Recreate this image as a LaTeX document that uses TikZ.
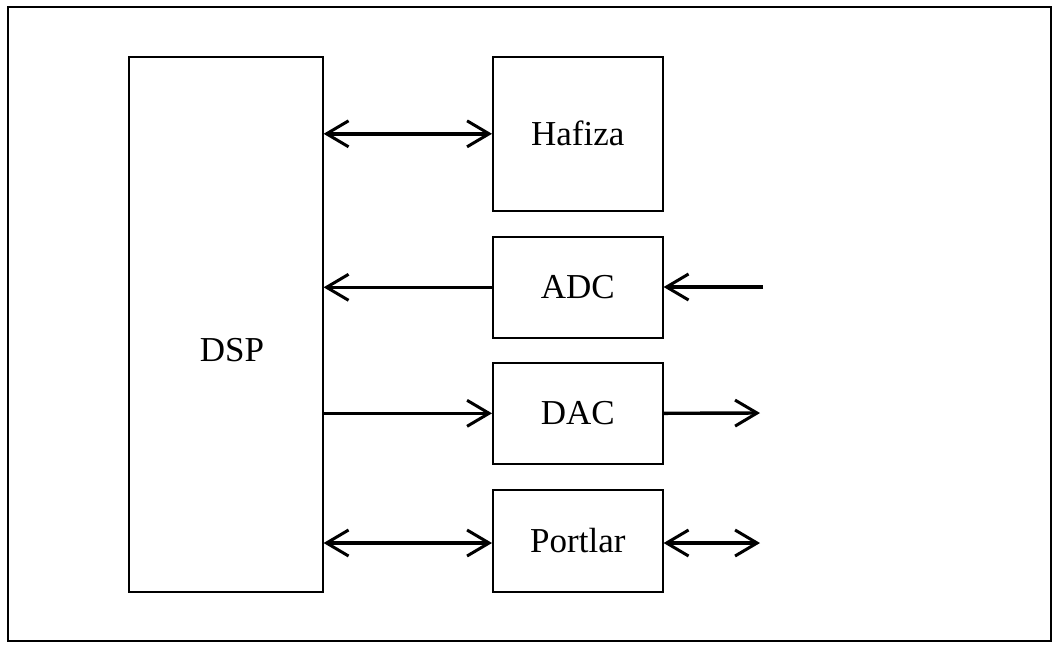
\documentclass[tikz,border=0pt]{standalone}
\usepackage{fontspec}
\setmainfont{Liberation Serif}
\usetikzlibrary{arrows.meta,positioning}
\tikzset{
  blok/.style={draw, line width=0.8pt, minimum width=85pt, inner sep=0pt, anchor=north west},
  ok/.style={line width=1.7pt, -{Straight Barb[length=11pt,width=13pt,line width=1.5pt]}},
  cift/.style={line width=1.7pt, {Straight Barb[length=11pt,width=13pt,line width=1.5pt]}-{Straight Barb[length=11pt,width=13pt,line width=1.5pt]}}
}
\begin{document}
\begin{tikzpicture}[x=0.5pt, y=-0.5pt, font=\fontsize{17.5}{20}\selectfont]
  \useasboundingbox (0,0) rectangle (1053,644);
  \draw[line width=1pt] (8,7) rectangle (1051,641);
  % bloklar
  \node[blok, minimum width=97pt, minimum height=267.5pt] (dsp) at (128,56) {};
  \node (dsptext) at (232,350) {DSP};
  \node[blok, minimum height=77pt] (hafiza) at (492,56) {Hafiza};
  \node[blok, minimum height=50.5pt] (adc) at (492,236) {ADC};
  \node[blok, minimum height=50.5pt] (dac) at (492,362) {DAC};
  \node[blok, minimum height=51pt] (port) at (492,489) {Portlar};
  % dis uclar
  \coordinate (adcin) at (763,287);
  \coordinate (dacout) at (760,413);
  \coordinate (portout) at (760,543);
  % baglantilar
  \draw[cift] (dsp.east |- hafiza.west) -- (hafiza.west);
  \draw[ok] (adc.west) -- (dsp.east |- adc.west);
  \draw[ok] (adcin) -- (adc.east |- adcin);
  \draw[ok] (dsp.east |- dac.west) -- (dac.west);
  \draw[ok] (dac.east) -- (dacout);
  \draw[cift] (dsp.east |- portout) -- (port.west |- portout);
  \draw[cift] (port.east |- portout) -- (portout);
\end{tikzpicture}
\end{document}
